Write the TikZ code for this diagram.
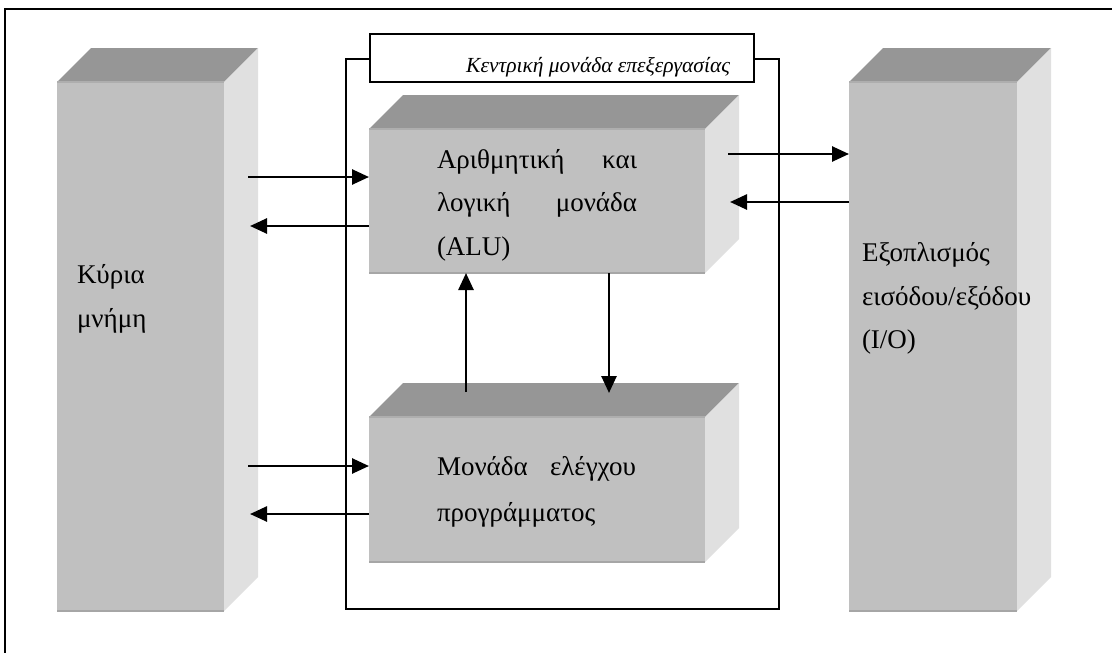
\documentclass[tikz,border=0pt]{standalone}
\usepackage{fontspec}
\setmainfont{Liberation Serif}
\usetikzlibrary{calc,arrows.meta}

\definecolor{frontgrey}{HTML}{C0C0C0}
\definecolor{topgrey}{HTML}{969696}
\definecolor{sidegrey}{HTML}{E0E0E0}
\definecolor{edgegrey}{HTML}{A6A6A6}

\tikzset{
  face/.style={fill=frontgrey, draw=none, inner sep=0pt, outer sep=0pt, anchor=north west},
  arr/.style={line width=2.6pt, -{Triangle[length=17pt,width=15pt]}},
  frameline/.style={line width=1.6pt},
  word/.style={inner sep=0pt, outer sep=0pt, anchor=base west, font=\fontsize{27}{27}\selectfont},
  captionword/.style={inner sep=0pt, outer sep=0pt, anchor=base east, font=\fontsize{21.5}{21.5}\selectfont\itshape},
}

% top and side faces of a raised block whose front face is node #1
\newcommand{\blockdepth}[1]{%
  \fill[topgrey] (#1.north west) -- ++(34,-34) -- ($(#1.north east)+(34,-34)$) -- (#1.north east) -- cycle;
  \fill[sidegrey] (#1.north east) -- ++(34,-34) -- ($(#1.south east)+(34,-34)$) -- (#1.south east) -- cycle;
  \draw[edgegrey, line width=1.5pt] (#1.south west) -- (#1.south east);
  \draw[edgegrey!70!frontgrey, line width=1.5pt] (#1.north west) -- (#1.north east);
}

\begin{document}
\begin{tikzpicture}[x=1pt,y=-1pt]
  \useasboundingbox (0,0) rectangle (1112,653);
  \fill[white] (0,0) rectangle (1112,653);

  % page border
  \coordinate (bordertr) at (1112,9);
  \coordinate (bordertl) at (5,9);
  \coordinate (borderbl) at (5,653);
  \draw[frameline] (bordertr) -- (bordertl) -- (borderbl);

  % main memory and I/O columns
  \node[face, minimum width=167pt, minimum height=529pt] (mem) at (57,82) {};
  \blockdepth{mem}
  \node[face, minimum width=168pt, minimum height=529pt] (io) at (849,82) {};
  \blockdepth{io}

  % central processing unit frame and its caption
  \node[draw, frameline, inner sep=0pt, minimum width=433pt, minimum height=550pt, anchor=north west] (cpu) at (345,58) {};
  \node[draw, frameline, fill=white, inner sep=0pt, minimum width=384pt, minimum height=48pt, anchor=north west] (cpulabel) at (369,33) {};
  \node[captionword] (cpucaption) at (730,72) {Κεντρική μονάδα επεξεργασίας};

  % ALU and control unit blocks
  \node[face, minimum width=336pt, minimum height=144pt] (alu) at (369,129) {};
  \blockdepth{alu}
  \node[face, minimum width=336pt, minimum height=145pt] (ctl) at (369,417) {};
  \blockdepth{ctl}

  % labels
  \node[word] (memtxta) at (77,283) {Κύρια};
  \node[word] (memtxtb) at (77,327) {μνήμη};

  \node[word] (alutxta) at (437,168) {\makebox[200pt][s]{Αριθμητική\hfill και}};
  \node[word] (alutxtb) at (437,211.5) {\makebox[200pt][s]{λογική\hfill μονάδα}};
  \node[word] (alutxtc) at (437,255) {(ALU)};

  \node[word] (ctltxta) at (437,475) {\makebox[199pt][s]{Μονάδα\hfill ελέγχου}};
  \node[word] (ctltxtb) at (437,521) {προγράμματος};

  \node[word] (iotxta) at (862,261) {Εξοπλισμός};
  \node[word] (iotxtb) at (862,305) {εισόδου/εξόδου};
  \node[word] (iotxtc) at (862,348) {(I/O)};

  % memory <-> ALU / control unit
  \coordinate (ma) at (248,177);
  \coordinate (mb) at (250,226);
  \coordinate (mc) at (248,466);
  \coordinate (md) at (250,514);
  \draw[arr] (ma) -- (alu.west |- ma);
  \draw[arr] (alu.west |- mb) -- (mb);
  \draw[arr] (mc) -- (ctl.west |- mc);
  \draw[arr] (ctl.west |- md) -- (md);

  % ALU <-> I/O
  \coordinate (ia) at (728,154);
  \coordinate (ib) at (730,202);
  \draw[arr] (ia) -- (io.west |- ia);
  \draw[arr] (io.west |- ib) -- (ib);

  % ALU <-> control unit
  \coordinate (up) at (466,392);
  \coordinate (dn) at (609,393);
  \draw[arr] (up) -- (alu.south -| up);
  \draw[arr] (alu.south -| dn) -- (dn);
\end{tikzpicture}
\end{document}
